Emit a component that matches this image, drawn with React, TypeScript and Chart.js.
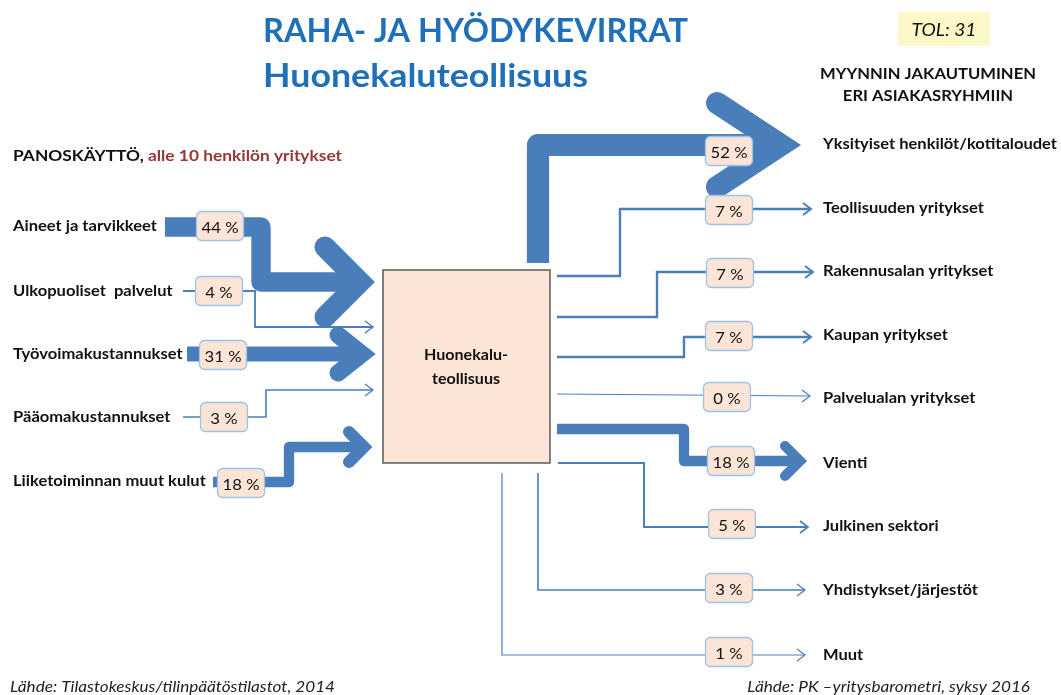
import React, { useEffect, useRef } from 'react';
import { Chart, registerables } from 'chart.js';

Chart.register(...registerables);

// ---------- DATA ----------
const titleLines = ['RAHA- JA HYÖDYKEVIRRAT', 'Huonekaluteollisuus'];
const tolLabel = 'TOL: 31';
const inputHeading = ['PANOSKÄYTTÖ, ', 'alle 10 henkilön yritykset'];
const outputHeading = ['MYYNNIN JAKAUTUMINEN', 'ERI ASIAKASRYHMIIN'];
const centerLabel = ['Huonekalu-', 'teollisuus'];
const inputLabels = [
  'Aineet ja tarvikkeet',
  'Ulkopuoliset  palvelut',
  'Työvoimakustannukset',
  'Pääomakustannukset',
  'Liiketoiminnan muut kulut',
];
const inputValues = [44, 4, 31, 3, 18];
const outputLabels = [
  'Yksityiset henkilöt/kotitaloudet',
  'Teollisuuden yritykset',
  'Rakennusalan yritykset',
  'Kaupan yritykset',
  'Palvelualan yritykset',
  'Vienti',
  'Julkinen sektori',
  'Yhdistykset/järjestöt',
  'Muut',
];
const outputValues = [52, 7, 7, 7, 0, 18, 5, 3, 1];
const sourceLeft = 'Lähde: Tilastokeskus/tilinpäätöstilastot, 2014';
const sourceRight = 'Lähde: PK –yritysbarometri, syksy 2016';

// ---------- LAYOUT / STYLE ----------
type Pt = [number, number];
type Head = { tip: Pt; arms: [Pt, Pt]; w: number; big: boolean };
type Flow = { labelY: number; box: Pt; path: Pt[]; head: Head };

const openHead = (tip: Pt): Head => ({
  tip,
  arms: [
    [tip[0] - 8, tip[1] - 6],
    [tip[0] - 8, tip[1] + 6],
  ],
  w: 1.4,
  big: false,
});

const inputLayout: Flow[] = [
  {
    labelY: 226,
    box: [220, 226],
    path: [[165, 227], [261, 227], [261, 282], [360, 282]],
    head: { tip: [360, 282], arms: [[325, 247], [325, 317]], w: 21, big: true },
  },
  {
    labelY: 291,
    box: [219, 291],
    path: [[183, 291], [255, 291], [255, 327], [373, 327]],
    head: openHead([373, 327]),
  },
  {
    labelY: 354,
    box: [223, 355],
    path: [[187, 354], [362, 354]],
    head: { tip: [362, 354], arms: [[338, 335], [338, 373]], w: 17, big: true },
  },
  {
    labelY: 417,
    box: [224, 417],
    path: [[183, 417], [266, 417], [266, 390], [373, 390]],
    head: openHead([373, 390]),
  },
  {
    labelY: 481,
    box: [241, 483],
    path: [[213, 482], [289, 482], [289, 447], [364, 447]],
    head: { tip: [364, 447], arms: [[349, 432], [349, 462]], w: 12, big: true },
  },
];

const outputLayout: Flow[] = [
  {
    labelY: 144,
    box: [729, 151],
    path: [[538, 263], [538, 145], [781, 145]],
    head: { tip: [781, 145], arms: [[717, 103], [717, 187]], w: 22, big: true },
  },
  {
    labelY: 208,
    box: [729, 210],
    path: [[557, 276], [620, 276], [620, 209], [811, 209]],
    head: openHead([811, 209]),
  },
  {
    labelY: 271,
    box: [730, 273],
    path: [[557, 317], [657, 317], [657, 272], [813, 272]],
    head: openHead([813, 272]),
  },
  {
    labelY: 335,
    box: [729, 336],
    path: [[557, 357], [684, 357], [684, 337], [811, 337]],
    head: openHead([811, 337]),
  },
  {
    labelY: 398,
    box: [727, 397],
    path: [[557, 394], [810, 396]],
    head: openHead([810, 396]),
  },
  {
    labelY: 463,
    box: [731, 461],
    path: [[557, 429], [684, 429], [684, 461], [800, 461]],
    head: { tip: [800, 461], arms: [[785, 446], [785, 476]], w: 10, big: true },
  },
  {
    labelY: 526,
    box: [732, 524],
    path: [[558, 463], [644, 463], [644, 527], [808, 527]],
    head: openHead([808, 527]),
  },
  {
    labelY: 590,
    box: [729, 588],
    path: [[538, 473], [538, 590], [805, 590]],
    head: openHead([805, 590]),
  },
  {
    labelY: 655,
    box: [729, 652],
    path: [[502, 473], [502, 655], [805, 655]],
    head: openHead([805, 655]),
  },
];

const BLUE = '#4a7ebb';
const TITLE_BLUE = '#1f70b9';
const PEACH = '#fce4d6';
const BOX_EDGE = '#9dc3e6';
const DARK_RED = '#953735';
const FAMILY = 'Lato, "Open Sans", sans-serif';

const strokeWidth = (v: number) => (v >= 10 ? 4 + v * 0.35 : 1 + v * 0.2);

function makeDatasets(values: number[], layout: Flow[]) {
  const ds: any[] = [];
  values.forEach((v, i) => {
    const L = layout[i];
    const w = strokeWidth(v);
    ds.push({
      label: 'flow',
      data: L.path.map(([x, y]) => ({ x, y })),
      showLine: true,
      borderColor: BLUE,
      backgroundColor: BLUE,
      borderWidth: w,
      borderJoinStyle: w > 5 ? 'round' : 'miter',
      borderCapStyle: 'butt',
      pointRadius: 0,
      tension: 0,
      fill: false,
    });
    const h = L.head;
    ds.push({
      label: 'head',
      data: [h.arms[0], h.tip, h.arms[1]].map(([x, y]) => ({ x, y })),
      showLine: true,
      borderColor: BLUE,
      borderWidth: h.big ? h.w : Math.max(1.2, w * 0.8),
      borderJoinStyle: 'miter',
      borderCapStyle: h.big ? 'round' : 'butt',
      pointRadius: 0,
      tension: 0,
      fill: false,
    });
  });
  return ds;
}

function setFont(ctx: CanvasRenderingContext2D, size: number, weight = '400', style = 'normal') {
  ctx.font = `${style} ${weight} ${size}px ${FAMILY}`;
}

// horizontal squeeze factor so that `ref` text at given font is `target` px wide
function squeeze(ctx: CanvasRenderingContext2D, ref: string, target: number) {
  return target / ctx.measureText(ref).width;
}

function drawText(
  ctx: CanvasRenderingContext2D,
  text: string,
  x: number,
  y: number,
  sx: number,
  align: CanvasTextAlign = 'left',
) {
  ctx.save();
  ctx.translate(x, y);
  ctx.scale(sx, 1);
  ctx.textAlign = align;
  ctx.fillText(text, 0, 0);
  ctx.restore();
}

const overlay = {
  id: 'overlay',
  beforeDatasetsDraw(chart: any) {
    const ctx: CanvasRenderingContext2D = chart.ctx;
    const X = (v: number) => chart.scales.x.getPixelForValue(v);
    const Y = (v: number) => chart.scales.y.getPixelForValue(v);
    ctx.save();
    ctx.fillStyle = PEACH;
    ctx.strokeStyle = '#5a5a5a';
    ctx.lineWidth = 1.5;
    ctx.fillRect(X(383), Y(270), X(550) - X(383), Y(463) - Y(270));
    ctx.strokeRect(X(383), Y(270), X(550) - X(383), Y(463) - Y(270));
    ctx.restore();
  },
  afterDatasetsDraw(chart: any) {
    const ctx: CanvasRenderingContext2D = chart.ctx;
    const X = (v: number) => chart.scales.x.getPixelForValue(v);
    const Y = (v: number) => chart.scales.y.getPixelForValue(v);
    ctx.save();
    ctx.textBaseline = 'alphabetic';

    // title
    setFont(ctx, 33, '700');
    ctx.fillStyle = TITLE_BLUE;
    drawText(ctx, titleLines[0], X(263), Y(42), squeeze(ctx, titleLines[0], 425));
    drawText(ctx, titleLines[1], X(263), Y(87), squeeze(ctx, titleLines[1], 325));

    // TOL box
    ctx.fillStyle = '#fef8c8';
    ctx.fillRect(X(898), Y(12), X(990) - X(898), Y(46) - Y(12));
    setFont(ctx, 18, '400', 'italic');
    ctx.fillStyle = '#111';
    drawText(ctx, tolLabel, X(944), Y(36), squeeze(ctx, tolLabel, 65), 'center');

    // output heading
    setFont(ctx, 15, '700');
    ctx.fillStyle = '#111';
    const ohs = squeeze(ctx, outputHeading[0], 216);
    drawText(ctx, outputHeading[0], X(928), Y(79), ohs, 'center');
    drawText(ctx, outputHeading[1], X(928), Y(101), ohs, 'center');

    // input heading
    setFont(ctx, 16, '700');
    const ihs = squeeze(ctx, inputHeading[0] + inputHeading[1], 329);
    ctx.fillStyle = '#111';
    drawText(ctx, inputHeading[0], X(13), Y(161), ihs);
    const w0 = ctx.measureText(inputHeading[0]).width * ihs;
    ctx.fillStyle = DARK_RED;
    drawText(ctx, inputHeading[1], X(13) + w0, Y(161), ihs);

    // center label
    setFont(ctx, 15.5, '700');
    ctx.fillStyle = '#111';
    const cs = squeeze(ctx, centerLabel[0], 84);
    drawText(ctx, centerLabel[0], X(466), Y(360), cs, 'center');
    drawText(ctx, centerLabel[1], X(466), Y(384), cs, 'center');

    // value boxes
    setFont(ctx, 16, '400');
    const vs = squeeze(ctx, '44 %', 37);
    const drawBox = (cx: number, cy: number, text: string) => {
      const bw = 47, bh = 29;
      ctx.beginPath();
      (ctx as any).roundRect(X(cx - bw / 2), Y(cy - bh / 2), bw, bh, 5);
      ctx.fillStyle = PEACH;
      ctx.fill();
      ctx.strokeStyle = BOX_EDGE;
      ctx.lineWidth = 1.3;
      ctx.stroke();
      setFont(ctx, 16, '400');
      ctx.fillStyle = '#111';
      drawText(ctx, text, X(cx), Y(cy + 7), vs, 'center');
    };

    // left labels + boxes
    setFont(ctx, 14.8, '700');
    const ls = squeeze(ctx, inputLabels[0], 144);
    inputValues.forEach((v, i) => {
      const L = inputLayout[i];
      setFont(ctx, 14.8, '700');
      ctx.fillStyle = '#111';
      drawText(ctx, inputLabels[i], X(13), Y(L.labelY + 5), ls);
      drawBox(L.box[0], L.box[1], `${v} %`);
    });

    // right labels + boxes
    setFont(ctx, 15, '700');
    const rs = squeeze(ctx, outputLabels[0], 234);
    outputValues.forEach((v, i) => {
      const L = outputLayout[i];
      setFont(ctx, 15, '700');
      ctx.fillStyle = '#111';
      drawText(ctx, outputLabels[i], X(823), Y(L.labelY + 5), rs);
      drawBox(L.box[0], L.box[1], `${v} %`);
    });

    // sources
    setFont(ctx, 16, '400', 'italic');
    ctx.fillStyle = '#222';
    const ss = squeeze(ctx, sourceLeft, 325);
    drawText(ctx, sourceLeft, X(10), Y(692), ss);
    drawText(ctx, sourceRight, X(1030), Y(692), ss, 'right');

    ctx.restore();
  },
};

export default function App() {
  const ref = useRef<HTMLCanvasElement>(null);
  useEffect(() => {
    if (!ref.current) return;
    const chart = new Chart(ref.current, {
      type: 'scatter',
      data: {
        datasets: [
          ...makeDatasets(inputValues, inputLayout),
          ...makeDatasets(outputValues, outputLayout),
        ],
      },
      options: {
        animation: false,
        responsive: false,
        devicePixelRatio: 1,
        layout: { padding: 0 },
        events: [],
        scales: {
          x: { type: 'linear', min: 0, max: 1061, display: false },
          y: { type: 'linear', min: 0, max: 695, reverse: true, display: false },
        },
        plugins: {
          legend: { display: false },
          tooltip: { enabled: false },
        },
      },
      plugins: [overlay],
    });
    return () => chart.destroy();
  }, []);
  return (
    <div style={{ position: 'fixed', left: 0, top: 0, width: 1061, height: 695, background: '#fff' }}>
      <canvas ref={ref} width={1061} height={695} />
    </div>
  );
}
